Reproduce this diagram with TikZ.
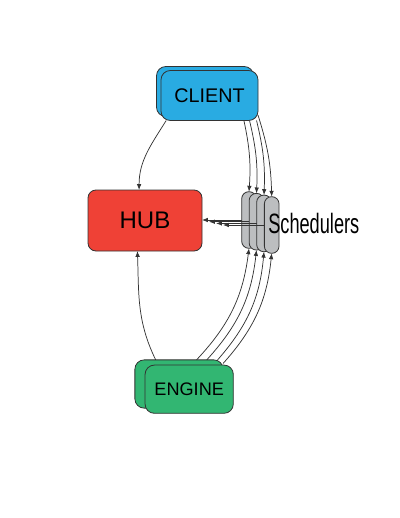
\documentclass[tikz,border=0pt]{standalone}
\usepackage{fontspec}
\setmainfont{Liberation Sans}
\newfontfamily\narrowfont[FakeStretch=0.65]{Liberation Sans}
\usetikzlibrary{arrows.meta}

\definecolor{clientblue}{HTML}{29ABE2}
\definecolor{hubred}{HTML}{EF4136}
\definecolor{enginegreen}{HTML}{32B672}
\definecolor{schedgray}{HTML}{BCBEC0}
\definecolor{edgegray}{HTML}{333333}

\begin{document}
\begin{tikzpicture}[
	x=0.75pt, y=0.75pt,
	Box/.style={draw=edgegray, line width=0.6pt, inner sep=0pt, outer sep=0pt},
	ClientBox/.style={Box, fill=clientblue, rounded corners=7pt,
		minimum width=72.75pt, minimum height=37.5pt,
		font=\fontsize{14.8}{17}\selectfont},
	HubBox/.style={Box, fill=hubred, rounded corners=6pt,
		minimum width=85.5pt, minimum height=45.75pt,
		font=\fontsize{18}{21}\selectfont},
	EngineBox/.style={Box, fill=enginegreen, rounded corners=7pt,
		minimum width=66.2pt, minimum height=36.2pt,
		font=\fontsize{13.6}{16}\selectfont},
	SchedBox/.style={Box, fill=schedgray, rounded corners=5.4pt,
		minimum width=11pt, minimum height=42.5pt},
	Link/.style={draw=edgegray, line width=0.55pt,
		-{Latex[length=4.4pt, width=3.4pt]}},
	]
	\useasboundingbox (0,0) rectangle (400,-518);

	% client (two stacked cards)
	\node [ClientBox] (client back) at (205,-91.5) {};
	\node [ClientBox] (client) at (209.5,-95.5) {CLIENT};

	% hub
	\node [HubBox] (hub) at (145,-220.5) {HUB};

	% schedulers
	\node [SchedBox] (s1) at (249,-220) {};
	\node [SchedBox] (s2) at (256.5,-221.7) {};
	\node [SchedBox] (s3) at (264,-223.4) {};
	\node [SchedBox] (s4) at (271.7,-225) {};
	\node [anchor=base west, inner sep=0pt,
		font=\narrowfont\fontsize{21}{24}\selectfont] (schedlabel)
		at (268,-233.5) {Schedulers};

	% engine (two stacked cards)
	\node [EngineBox] (engine back) at (179,-384) {};
	\node [EngineBox] (engine) at (189.2,-389.2) {ENGINE};

	% client and engine to hub
	\draw [Link] (client.-150) to[out=-122, in=90] (hub.101);
	\draw [Link] (engine back.134) to[out=116, in=-88] (hub.-104);

	% client to schedulers
	\draw [Link] (client.-36) to[bend left=8] (s1.north);
	\draw [Link] (client.-32) to[bend left=8] (s2.north);
	\draw [Link] (client.-28) to[bend left=8] (s3.north);
	\draw [Link] (client.-22) to[bend left=8] (s4.north);

	% engine to schedulers
	\draw [Link] (engine back.54) to[bend right=18] (s1.south);
	\draw [Link] (engine back.41) to[bend right=18] (s2.south);
	\draw [Link] (engine back.32) to[bend right=18] (s3.south);
	\draw [Link] (engine back.25) to[bend right=18] (s4.south);

	% schedulers to hub
	\draw [Link] (s1.west) -- (hub.east |- s1.west);
	\draw [Link, shorten >=5.25pt] (s2.west) -- (hub.east |- s2.west);
	\draw [Link, shorten >=10.5pt] (s3.west) -- (hub.east |- s3.west);
	\draw [Link, shorten >=15.75pt] (s4.west) -- (hub.east |- s4.west);
\end{tikzpicture}
\end{document}
